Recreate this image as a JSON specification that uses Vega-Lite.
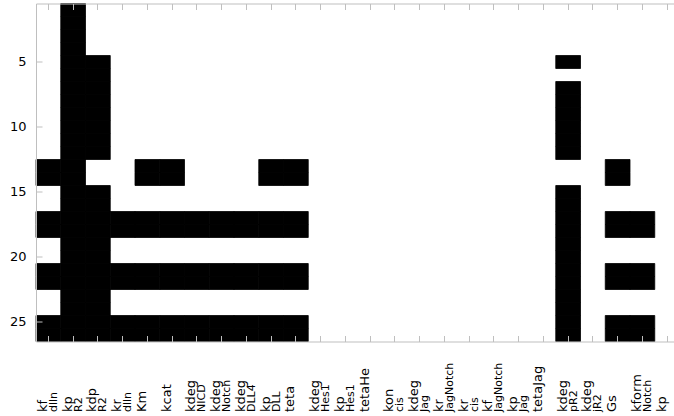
{
  "$schema": "https://vega.github.io/schema/vega-lite/v6.json",
  "width": 638,
  "height": 338,
  "autosize": {"type": "none"},
  "padding": {"left": 36, "top": 3.5, "right": 0, "bottom": 74.5},
  "background": "white",
  "config": {"view": {"stroke": null}, "axis": {"grid": false}},
  "data": {"values": [
    {"p":"kf_dlln","r":13},{"p":"kf_dlln","r":14},{"p":"kf_dlln","r":17},{"p":"kf_dlln","r":18},{"p":"kf_dlln","r":21},{"p":"kf_dlln","r":22},{"p":"kf_dlln","r":25},{"p":"kf_dlln","r":26},
    {"p":"kp_R2","r":1},{"p":"kp_R2","r":2},{"p":"kp_R2","r":3},{"p":"kp_R2","r":4},{"p":"kp_R2","r":5},{"p":"kp_R2","r":6},{"p":"kp_R2","r":7},{"p":"kp_R2","r":8},{"p":"kp_R2","r":9},{"p":"kp_R2","r":10},{"p":"kp_R2","r":11},{"p":"kp_R2","r":12},{"p":"kp_R2","r":13},{"p":"kp_R2","r":14},{"p":"kp_R2","r":15},{"p":"kp_R2","r":16},{"p":"kp_R2","r":17},{"p":"kp_R2","r":18},{"p":"kp_R2","r":19},{"p":"kp_R2","r":20},{"p":"kp_R2","r":21},{"p":"kp_R2","r":22},{"p":"kp_R2","r":23},{"p":"kp_R2","r":24},{"p":"kp_R2","r":25},{"p":"kp_R2","r":26},
    {"p":"kdp_R2","r":5},{"p":"kdp_R2","r":6},{"p":"kdp_R2","r":7},{"p":"kdp_R2","r":8},{"p":"kdp_R2","r":9},{"p":"kdp_R2","r":10},{"p":"kdp_R2","r":11},{"p":"kdp_R2","r":12},{"p":"kdp_R2","r":15},{"p":"kdp_R2","r":16},{"p":"kdp_R2","r":17},{"p":"kdp_R2","r":18},{"p":"kdp_R2","r":19},{"p":"kdp_R2","r":20},{"p":"kdp_R2","r":21},{"p":"kdp_R2","r":22},{"p":"kdp_R2","r":23},{"p":"kdp_R2","r":24},{"p":"kdp_R2","r":25},{"p":"kdp_R2","r":26},
    {"p":"kr_dlln","r":17},{"p":"kr_dlln","r":18},{"p":"kr_dlln","r":21},{"p":"kr_dlln","r":22},{"p":"kr_dlln","r":25},{"p":"kr_dlln","r":26},
    {"p":"Km","r":13},{"p":"Km","r":14},{"p":"Km","r":17},{"p":"Km","r":18},{"p":"Km","r":21},{"p":"Km","r":22},{"p":"Km","r":25},{"p":"Km","r":26},
    {"p":"kcat","r":13},{"p":"kcat","r":14},{"p":"kcat","r":17},{"p":"kcat","r":18},{"p":"kcat","r":21},{"p":"kcat","r":22},{"p":"kcat","r":25},{"p":"kcat","r":26},
    {"p":"kdeg_NICD","r":17},{"p":"kdeg_NICD","r":18},{"p":"kdeg_NICD","r":21},{"p":"kdeg_NICD","r":22},{"p":"kdeg_NICD","r":25},{"p":"kdeg_NICD","r":26},
    {"p":"kdeg_Notch","r":17},{"p":"kdeg_Notch","r":18},{"p":"kdeg_Notch","r":21},{"p":"kdeg_Notch","r":22},{"p":"kdeg_Notch","r":25},{"p":"kdeg_Notch","r":26},
    {"p":"kdeg_DLL4","r":17},{"p":"kdeg_DLL4","r":18},{"p":"kdeg_DLL4","r":21},{"p":"kdeg_DLL4","r":22},{"p":"kdeg_DLL4","r":25},{"p":"kdeg_DLL4","r":26},
    {"p":"kp_DLL","r":13},{"p":"kp_DLL","r":14},{"p":"kp_DLL","r":17},{"p":"kp_DLL","r":18},{"p":"kp_DLL","r":21},{"p":"kp_DLL","r":22},{"p":"kp_DLL","r":25},{"p":"kp_DLL","r":26},
    {"p":"teta","r":13},{"p":"teta","r":14},{"p":"teta","r":17},{"p":"teta","r":18},{"p":"teta","r":21},{"p":"teta","r":22},{"p":"teta","r":25},{"p":"teta","r":26},
    {"p":"kdeg_pR2","r":5},{"p":"kdeg_pR2","r":7},{"p":"kdeg_pR2","r":8},{"p":"kdeg_pR2","r":9},{"p":"kdeg_pR2","r":10},{"p":"kdeg_pR2","r":11},{"p":"kdeg_pR2","r":12},{"p":"kdeg_pR2","r":15},{"p":"kdeg_pR2","r":16},{"p":"kdeg_pR2","r":17},{"p":"kdeg_pR2","r":18},{"p":"kdeg_pR2","r":19},{"p":"kdeg_pR2","r":20},{"p":"kdeg_pR2","r":21},{"p":"kdeg_pR2","r":22},{"p":"kdeg_pR2","r":23},{"p":"kdeg_pR2","r":24},{"p":"kdeg_pR2","r":25},{"p":"kdeg_pR2","r":26},
    {"p":"Gs","r":13},{"p":"Gs","r":14},{"p":"Gs","r":17},{"p":"Gs","r":18},{"p":"Gs","r":21},{"p":"Gs","r":22},{"p":"Gs","r":25},{"p":"Gs","r":26},
    {"p":"kform_Notch","r":17},{"p":"kform_Notch","r":18},{"p":"kform_Notch","r":21},{"p":"kform_Notch","r":22},{"p":"kform_Notch","r":25},{"p":"kform_Notch","r":26}
  ]},
  "resolve": {"axis": {"x": "independent", "y": "independent"}},
  "layer": [
    {
      "mark": {"type": "rect", "fill": "#000000", "stroke": "#000000", "strokeWidth": 0.8},
      "encoding": {
        "x": {"field": "p", "type": "nominal",
          "scale": {"domain": ["kf_dlln","kp_R2","kdp_R2","kr_dlln","Km","kcat","kdeg_NICD","kdeg_Notch","kdeg_DLL4","kp_DLL","teta","kdeg_Hes1","kp_Hes1","tetaHe","kon_cis","kdeg_Jag","kr_JagNotch","kr_cis","kf_JagNotch","kp_Jag","tetaJag","kdeg_pR2","kdeg_jR2","Gs","kform_Notch","kp"], "range": [0, 643.5], "paddingInner": 0, "paddingOuter": 0},
          "axis": {"orient": "bottom", "title": null, "domain": true, "domainColor": "#bfbfbf", "ticks": true, "tickColor": "#bfbfbf", "tickSize": -6,
            "labelExpr": "split(datum.value,'_')[0]", "labelAngle": 270, "labelAlign": "left", "labelBaseline": "alphabetic",
            "labelFont": "DejaVu Sans", "labelFontSize": 13, "labelColor": "#000000", "labelPadding": 76, "labelOffset": -1.5,
            "labelOverlap": false, "labelLimit": 0, "zindex": 1}},
        "y": {"field": "r", "type": "ordinal",
          "scale": {"domain": [1,2,3,4,5,6,7,8,9,10,11,12,13,14,15,16,17,18,19,20,21,22,23,24,25,26], "paddingInner": 0, "paddingOuter": 0},
          "axis": {"orient": "left", "title": null, "values": [5,10,15,20,25], "domainColor": "#bfbfbf", "tickColor": "#bfbfbf", "tickSize": -6,
            "labelFont": "DejaVu Sans", "labelFontSize": 13, "labelColor": "#000000", "labelPadding": 16, "zindex": 1}}
      }
    },
    {
      "mark": {"type": "rect", "opacity": 0},
      "encoding": {
        "x": {"field": "p", "type": "nominal",
          "axis": {"orient": "bottom", "title": null, "domain": false, "ticks": true, "tickSize": -6, "tickOpacity": 0,
            "labelExpr": "indexof(datum.value,'_') >= 0 ? split(datum.value,'_')[1] : ''", "labelAngle": 270, "labelAlign": "left", "labelBaseline": "alphabetic",
            "labelFont": "DejaVu Sans", "labelFontSize": 11, "labelColor": "#000000", "labelPadding": 76, "labelOffset": 8.5,
            "labelOverlap": false, "labelLimit": 0, "zindex": 1,
            "encode": {"labels": {"update": {"dx": {"signal": "({'kf': 13.1, 'kp': 16.8, 'kdp': 25, 'kr': 13.9, 'kdeg': 33, 'kon': 24.7, 'kform': 39.1})[split(datum.value,'_')[0]] || 0"}}}}}},
        "y": {"field": "r", "type": "ordinal", "axis": null}
      }
    },
    {
      "mark": {"type": "rect", "opacity": 0},
      "encoding": {
        "x": {"field": "p", "type": "nominal",
          "axis": {"orient": "top", "title": null, "labels": false, "domain": true, "domainColor": "#bfbfbf", "ticks": true, "tickColor": "#bfbfbf", "tickSize": -6, "zindex": 1}},
        "y": {"field": "r", "type": "ordinal", "axis": null}
      }
    }
  ]
}
